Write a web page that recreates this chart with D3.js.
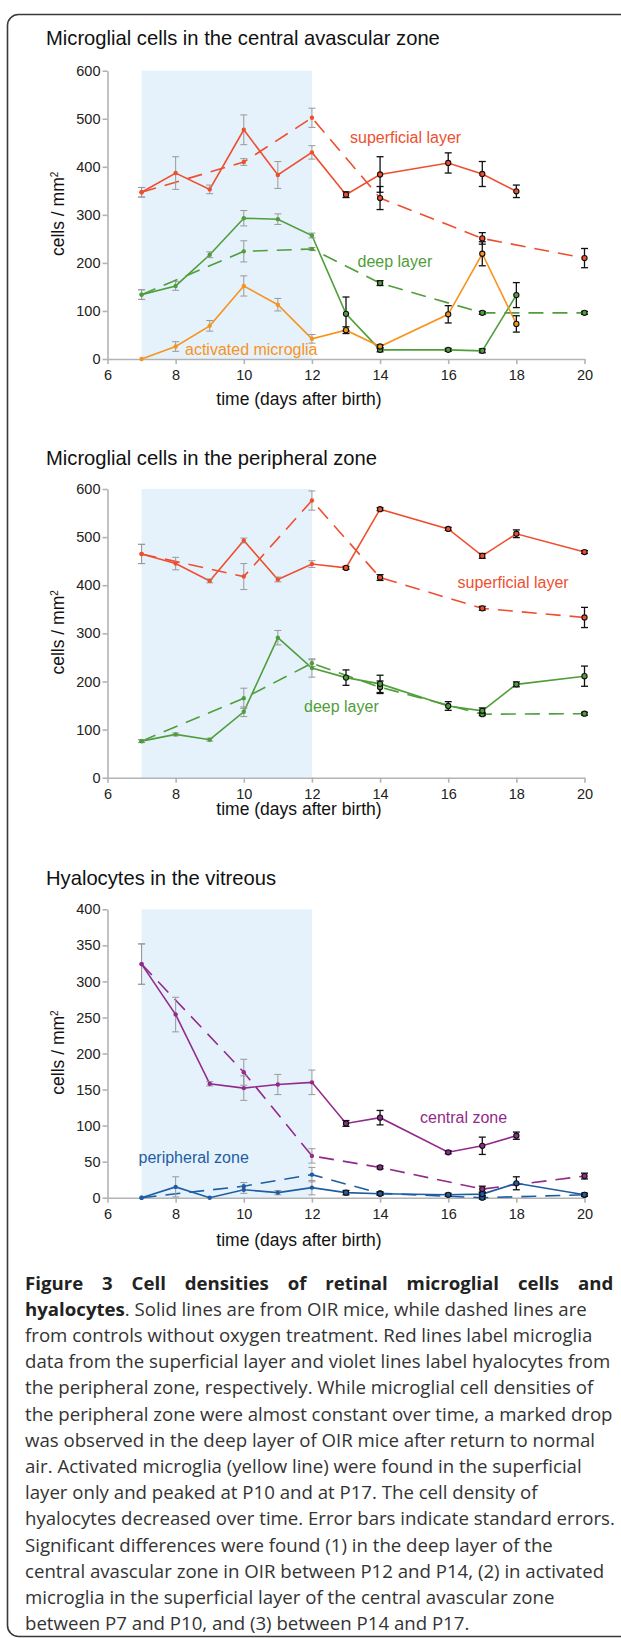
<!DOCTYPE html>
<html>
<head>
<meta charset="utf-8">
<script src="https://cdn.jsdelivr.net/npm/d3@7"></script>
<style>
  body { margin: 0; background: #fff; }
  svg { display: block; }
  .tick text { font-family: "Liberation Sans", Arial, sans-serif; font-size: 14.5px; fill: #222; }
  .axis path, .axis line { stroke: #b3b3b3; stroke-width: 1.6px; }
</style>
</head>
<body>
<div class="fig"></div>
<script>
var width = 621, height = 1638;

// ---- data ----
// panel 1: central avascular zone
var p1DaysOIR = [7, 8, 9, 10, 11, 12, 13, 14, 16, 17, 18];
var p1DaysCtrl = [7, 10, 12, 14, 17, 20];
var p1SupOIR = [347, 387, 353, 477, 383, 430, 342, 384, 408, 385, 349];
var p1SupOIRErr = [10, 34, 9, 31, 28, 14, 6, 37, 21, 26, 13];
var p1SupCtrl = [347, 410, 502, 335, 251, 210];
var p1SupCtrlErr = [10, 7, 20, 24, 12, 20];
var p1DeepOIR = [134, 152, 217, 293, 291, 257, 94, 19, 19, 17, 133];
var p1DeepOIRErr = [10, 9, 6, 16, 11, 5, 35, 4, 3, 4, 26];
var p1DeepCtrl = [134, 224, 229, 158, 96, 96];
var p1DeepCtrlErr = [10, 22, 3, 5, 3, 3];
var p1Act = [0, 26, 69, 152, 113, 42, 60, 26, 93, 219, 73];
var p1ActErr = [0, 10, 11, 21, 13, 9, 7, 3, 18, 25, 17];

// panel 2: peripheral zone
var p2DaysOIR = [7, 8, 9, 10, 11, 12, 13, 14, 16, 17, 18, 20];
var p2DaysCtrl = [7, 10, 12, 14, 17, 20];
var p2SupOIR = [465, 445, 409, 493, 412, 444, 436, 558, 517, 461, 507, 469];
var p2SupOIRErr = [20, 13, 4, 5, 5, 7, 3, 3, 3, 5, 8, 3];
var p2SupCtrl = [465, 418, 576, 416, 352, 333];
var p2SupCtrlErr = [20, 27, 20, 6, 4, 21];
var p2DeepOIR = [76, 90, 79, 137, 291, 228, 208, 195, 149, 139, 194, 211];
var p2DeepOIRErr = [3, 3, 3, 10, 15, 19, 16, 18, 9, 6, 5, 21];
var p2DeepCtrl = [76, 165, 238, 188, 132, 133];
var p2DeepCtrlErr = [3, 21, 7, 13, 3, 3];

// panel 3: hyalocytes
var p3DaysCen = [7, 8, 9, 10, 11, 12, 13, 14, 16, 17, 18];
var p3DaysPeri = [7, 8, 9, 10, 11, 12, 13, 14, 16, 17, 18, 20];
var p3DaysCtrl = [7, 10, 12, 14, 17, 20];
var p3CenOIR = [324, 254, 158, 152, 157, 160, 103, 111, 63, 72, 86];
var p3CenOIRErr = [28, 24, 3, 17, 14, 17, 4, 10, 2, 12, 5];
var p3CenCtrl = [324, 174, 58, 42, 12, 30];
var p3CenCtrlErr = [28, 18, 10, 2, 4, 4];
var p3PeriOIR = [0, 15, 0, 11, 7, 14, 7, 5.5, 4, 5, 20, 4];
var p3PeriOIRErr = [0, 14, 0, 5, 3, 10, 3, 2, 2, 2, 9, 2];
var p3PeriCtrl = [0, 16, 32, 6, 0, 4];
var p3PeriCtrlErr = [0, 5, 10, 2, 2, 2];

var xTicks = [6, 8, 10, 12, 14, 16, 18, 20];
var yTicks600 = [0, 100, 200, 300, 400, 500, 600];
var yTicks400 = [0, 50, 100, 150, 200, 250, 300, 350, 400];
var hyperoxia = [7, 12];

var captionLines = [
  "from controls without oxygen treatment. Red lines label microglia",
  "data from the superficial layer and violet lines label hyalocytes from",
  "the peripheral zone, respectively. While microglial cell densities of",
  "the peripheral zone were almost constant over time, a marked drop",
  "was observed in the deep layer of OIR mice after return to normal",
  "air. Activated microglia (yellow line) were found in the superficial",
  "layer only and peaked at P10 and at P17. The cell density of",
  "hyalocytes decreased over time. Error bars indicate standard errors.",
  "Significant differences were found (1) in the deep layer of the",
  "central avascular zone in OIR between P12 and P14, (2) in activated",
  "microglia in the superficial layer of the central avascular zone",
  "between P7 and P10, and (3) between P14 and P17."
];

var red = "#ee4f2f", green = "#4f9e3a", orange = "#f7941e", purple = "#922a8c", blue = "#1f5da3";
var font = '"Liberation Sans", Arial, sans-serif';

function zip(days, vals, errs) {
  return days.map(function(d, i) { return {x: d, y: vals[i], e: errs[i]}; });
}

var svg = d3.select(".fig").append("svg")
    .attr("width", width)
    .attr("height", height);

// frame
svg.append("rect")
    .attr("x", 7.5).attr("y", 14.5)
    .attr("width", 660).attr("height", 1622)
    .attr("rx", 11)
    .attr("fill", "none")
    .attr("stroke", "#3a3a3a")
    .attr("stroke-width", 1.6);

function panel(cfg) {
  var g = svg.append("g");
  var x = d3.scaleLinear().domain([6, 20]).range([107.5, 584.5]);
  var y = d3.scaleLinear().domain([0, cfg.ymax]).range([cfg.y0, cfg.y1]);

  g.append("text")
      .attr("x", 46).attr("y", cfg.titleY)
      .attr("font-family", font).attr("font-size", 20.2).attr("fill", "#111")
      .text(cfg.title);

  g.append("rect")
      .attr("x", x(hyperoxia[0])).attr("y", y(cfg.ymax))
      .attr("width", x(hyperoxia[1]) - x(hyperoxia[0]))
      .attr("height", y(0) - y(cfg.ymax))
      .attr("fill", "#e5f2fb");

  g.append("g").attr("class", "axis")
      .attr("transform", "translate(0," + y(0) + ")")
      .call(d3.axisBottom(x).tickValues(xTicks).tickSize(5).tickSizeOuter(0).tickPadding(6));

  g.append("g").attr("class", "axis")
      .attr("transform", "translate(" + x(6) + ",0)")
      .call(d3.axisLeft(y).tickValues(cfg.yTicks).tickSize(5).tickSizeOuter(0).tickPadding(2));

  g.append("text")
      .attr("text-anchor", "middle")
      .attr("transform", "translate(" + 63.5 + "," + ((y(0) + y(cfg.ymax)) / 2 - 1) + ") rotate(-90)")
      .attr("font-family", font).attr("font-size", 17.5).attr("fill", "#111")
      .html("cells / mm<tspan dy='-6' font-size='10'>2</tspan>");

  g.append("text")
      .attr("x", 299).attr("y", cfg.xTitleY)
      .attr("text-anchor", "middle")
      .attr("font-family", font).attr("font-size", 17.5).attr("fill", "#111")
      .text("time (days after birth)");

  var line = d3.line().x(function(d) { return x(d.x); }).y(function(d) { return y(d.y); });

  cfg.series.forEach(function(s) {
    g.append("path")
        .datum(s.data)
        .attr("d", line)
        .attr("fill", "none")
        .attr("stroke", s.color)
        .attr("stroke-width", 1.6)
        .attr("stroke-dasharray", s.dashed ? "15,9" : null);
  });

  cfg.series.forEach(function(s) {
    var pts = g.append("g").selectAll("g")
      .data(s.data.filter(function(d) { return d.e > 0; }))
      .enter().append("g")
        .attr("stroke", function(d) { return d.x > 12 ? "#111" : "#999"; })
        .attr("stroke-width", function(d) { return d.x > 12 ? 1.3 : 1; });
    pts.append("line")
        .attr("x1", function(d) { return x(d.x); }).attr("x2", function(d) { return x(d.x); })
        .attr("y1", function(d) { return y(d.y + d.e); }).attr("y2", function(d) { return y(d.y - d.e); });
    pts.append("line")
        .attr("x1", function(d) { return x(d.x) - 3.5; }).attr("x2", function(d) { return x(d.x) + 3.5; })
        .attr("y1", function(d) { return y(d.y + d.e); }).attr("y2", function(d) { return y(d.y + d.e); });
    pts.append("line")
        .attr("x1", function(d) { return x(d.x) - 3.5; }).attr("x2", function(d) { return x(d.x) + 3.5; })
        .attr("y1", function(d) { return y(d.y - d.e); }).attr("y2", function(d) { return y(d.y - d.e); });
  });

  cfg.series.forEach(function(s) {
    g.append("g").selectAll("circle")
      .data(s.data)
      .enter().append("circle")
        .attr("cx", function(d) { return x(d.x); })
        .attr("cy", function(d) { return y(d.y); })
        .attr("r", function(d) { return d.x > 12 ? 2.6 : 2.2; })
        .attr("fill", s.color)
        .attr("stroke", function(d) { return d.x > 12 ? "#111" : "none"; })
        .attr("stroke-width", 1.1);
  });

  cfg.labels.forEach(function(l) {
    g.append("text")
        .attr("x", l.x).attr("y", l.y)
        .attr("font-family", font).attr("font-size", 16).attr("fill", l.color)
        .text(l.text);
  });
}

panel({
  title: "Microglial cells in the central avascular zone",
  titleY: 45, xTitleY: 405, ymax: 600, yTicks: yTicks600, y0: 359, y1: 70.7,
  series: [
    {data: zip(p1DaysCtrl, p1SupCtrl, p1SupCtrlErr), color: red, dashed: true},
    {data: zip(p1DaysCtrl, p1DeepCtrl, p1DeepCtrlErr), color: green, dashed: true},
    {data: zip(p1DaysOIR, p1SupOIR, p1SupOIRErr), color: red},
    {data: zip(p1DaysOIR, p1DeepOIR, p1DeepOIRErr), color: green},
    {data: zip(p1DaysOIR, p1Act, p1ActErr), color: orange}
  ],
  labels: [
    {text: "superficial layer", x: 350, y: 143, color: red},
    {text: "deep layer", x: 357.5, y: 267, color: green},
    {text: "activated microglia", x: 185, y: 355, color: orange}
  ]
});

panel({
  title: "Microglial cells in the peripheral zone",
  titleY: 465, xTitleY: 815, ymax: 600, yTicks: yTicks600, y0: 777.7, y1: 489,
  series: [
    {data: zip(p2DaysCtrl, p2SupCtrl, p2SupCtrlErr), color: red, dashed: true},
    {data: zip(p2DaysCtrl, p2DeepCtrl, p2DeepCtrlErr), color: green, dashed: true},
    {data: zip(p2DaysOIR, p2SupOIR, p2SupOIRErr), color: red},
    {data: zip(p2DaysOIR, p2DeepOIR, p2DeepOIRErr), color: green}
  ],
  labels: [
    {text: "superficial layer", x: 457.5, y: 588, color: red},
    {text: "deep layer", x: 304, y: 712, color: green}
  ]
});

panel({
  title: "Hyalocytes in the vitreous",
  titleY: 884.5, xTitleY: 1246, ymax: 400, yTicks: yTicks400, y0: 1197.7, y1: 909.3,
  series: [
    {data: zip(p3DaysCtrl, p3CenCtrl, p3CenCtrlErr), color: purple, dashed: true},
    {data: zip(p3DaysCtrl, p3PeriCtrl, p3PeriCtrlErr), color: blue, dashed: true},
    {data: zip(p3DaysCen, p3CenOIR, p3CenOIRErr), color: purple},
    {data: zip(p3DaysPeri, p3PeriOIR, p3PeriOIRErr), color: blue}
  ],
  labels: [
    {text: "central zone", x: 420, y: 1123, color: purple},
    {text: "peripheral zone", x: 138.5, y: 1163, color: blue}
  ]
});

// caption
var capFont = '"Open Sans", "Noto Sans", sans-serif';
var capSize = 18, capLead = 26.2, capX = 25, capY0 = 1289.5;

var first = svg.append("text")
    .attr("x", capX).attr("y", capY0)
    .attr("font-family", capFont)
    .attr("font-weight", "bold").attr("fill", "#222")
    .text("Figure 3 Cell densities of retinal microglial cells and");

var second = svg.append("text")
    .attr("x", capX).attr("y", capY0 + capLead)
    .attr("font-family", capFont).attr("fill", "#333");
second.append("tspan").attr("font-weight", "bold").attr("fill", "#222").text("hyalocytes");
second.append("tspan").text(". Solid lines are from OIR mice, while dashed lines are");

var rest = svg.append("g").selectAll("text")
  .data(captionLines)
  .enter().append("text")
    .attr("x", capX)
    .attr("y", function(d, i) { return capY0 + capLead * (i + 2); })
    .attr("font-family", capFont).attr("fill", "#333")
    .text(function(d) { return d; });

// size the caption so lines 2-7 end where they do in the figure
var capEnds = [584, 584, 618, 584, 612.5, 610];
var capText = svg.selectAll("text").filter(function() { return this.getAttribute("font-family") === capFont; });
capText.attr("font-size", capSize);
var fitNodes = [second.node()].concat(rest.nodes().slice(0, 5));
var measured = d3.sum(fitNodes, function(n) { return n.getComputedTextLength(); });
var wanted = d3.sum(capEnds, function(e) { return e - capX; });
capSize = Math.max(16, Math.min(20, capSize * wanted / measured));
capText.attr("font-size", capSize);

// justify the first line by widening word gaps
var w0 = first.node().getComputedTextLength();
first.attr("word-spacing", (613.3 - capX - w0) / 8);
</script>
</body>
</html>
